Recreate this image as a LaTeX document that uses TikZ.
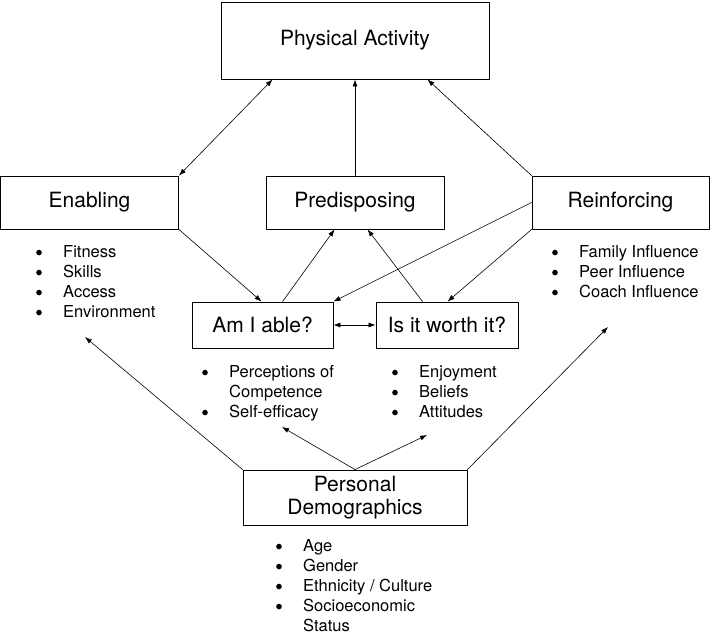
\documentclass[tikz,border=0pt]{standalone}
\usepackage{fontspec}
\setmainfont{TeX Gyre Heros}
\usepackage{array}
\usetikzlibrary{arrows.meta,calc}

\newcommand{\factorList}[1]{\begin{tabular}[t]{@{}p{27pt}@{}l@{}}#1\end{tabular}}
\newcommand{\bigBullet}{\tikz[baseline=0pt]\fill (0.17em,0.27em) circle (0.17em);}

\begin{document}
\begin{tikzpicture}[x=1pt, y=-1pt, >={Latex[length=7pt,width=5pt]}, line cap=round, line join=round]

% ---------- styles ----------
\tikzset{
  factorBox/.style ={draw, line width=0.9pt, inner sep=0pt, align=center,
                     font=\fontsize{21}{23}\selectfont},
  bulletList/.style={inner sep=0pt, anchor=base west,
                     font=\fontsize{16.5}{20}\selectfont},
  linkArrow/.style ={draw, line width=0.6pt}
}

\useasboundingbox (0,0) rectangle (710,635);

% ---------- outcome ----------
\node[factorBox, minimum width=268pt, minimum height=77pt] (physAct) at (355,40.5) {Physical Activity};

% ---------- factor boxes ----------
\node[factorBox, minimum width=178pt, minimum height=53pt] (enabling) at (89.5,202.5) {Enabling};
\node[factorBox, minimum width=178pt, minimum height=53pt] (predisp)  at (355,202.5)  {Predisposing};
\node[factorBox, minimum width=177pt, minimum height=53pt] (reinf)    at (620.5,202.5) {Reinforcing};

% ---------- the two questions ----------
\node[factorBox, minimum width=141pt, minimum height=46pt] (ableQ)  at (262.5,325) {Am I able?};
\node[factorBox, minimum width=142pt, minimum height=46pt] (worthQ) at (447,325)   {Is it worth it?};

% ---------- demographics ----------
\node[factorBox, minimum width=224pt, minimum height=55pt] (demogr) at (355,497.5) {Personal\\Demographics};

% ---------- bullet lists ----------
\node[bulletList] (enList) at (36,257) {\factorList{%
  \bigBullet & Fitness\\ \bigBullet & Skills\\ \bigBullet & Access\\ \bigBullet & Environment}};
\node[bulletList] (reList) at (552,257) {\factorList{%
  \bigBullet & Family Influence\\ \bigBullet & Peer Influence\\ \bigBullet & Coach Influence}};
\node[bulletList] (abList) at (202,377) {\factorList{%
  \bigBullet & Perceptions of\\ & Competence\\ \bigBullet & Self-efficacy}};
\node[bulletList] (woList) at (392,377) {\factorList{%
  \bigBullet & Enjoyment\\ \bigBullet & Beliefs\\ \bigBullet & Attitudes}};
\node[bulletList] (pdList) at (276,551) {\factorList{%
  \bigBullet & Age\\ \bigBullet & Gender\\ \bigBullet & Ethnicity / Culture\\
  \bigBullet & Socioeconomic\\ & Status}};

% ---------- links between boxes ----------
\draw[linkArrow, <->] ([xshift=52pt]physAct.south west) -- (enabling.north east);
\draw[linkArrow, ->] (predisp.north) -- (physAct.south);
\draw[linkArrow, ->] (reinf.north west) -- ([xshift=-62pt]physAct.south east);
\draw[linkArrow, ->] (enabling.south east) -- ([xshift=70pt]ableQ.north west);
\draw[linkArrow, ->] ([xshift=91pt]ableQ.north west) -- ([xshift=69pt]predisp.south west);
\draw[linkArrow, ->] (reinf.west) -- (ableQ.north east);
\draw[linkArrow, ->] (reinf.south west) -- ([xshift=72pt]worthQ.north west);
\draw[linkArrow, ->] ([xshift=47pt]worthQ.north west) -- ([xshift=102pt]predisp.south west);
\draw[linkArrow, <->] (ableQ.east) -- (worthQ.west);

% ---------- demographics towards the lists ----------
\coordinate (enTip) at (85,337);
\coordinate (reTip) at (608,327);
\coordinate (abTip) at (282,427);
\coordinate (woTip) at (427,435);
\draw[linkArrow, ->] (demogr.north west) -- (enTip);
\draw[linkArrow, ->] (demogr.north east) -- (reTip);
\draw[linkArrow, ->] (demogr.north) -- (abTip);
\draw[linkArrow, ->] (demogr.north) -- (woTip);

\end{tikzpicture}
\end{document}
